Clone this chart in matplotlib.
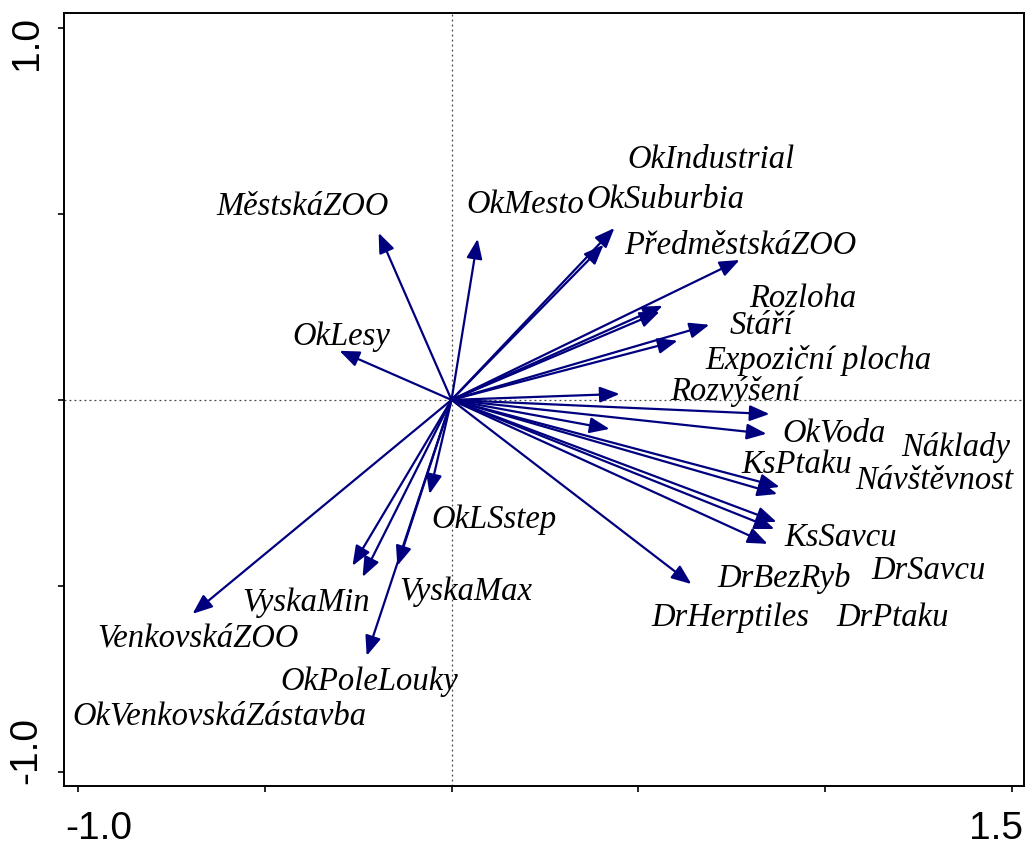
import matplotlib
matplotlib.use("Agg")
import matplotlib.pyplot as plt
import matplotlib.transforms as mtransforms

# arrow tips (biplot scores)
arrow_names = ["MestskaZOO", "OkMesto", "OkIndustrial", "OkSuburbia", "PredmestskaZOO",
               "Rozloha", "Rozloha2", "Stari", "Expozicni", "Rozvyseni", "Naklady",
               "OkVoda", "Var13", "KsPtaku", "Navstevnost", "KsSavcu", "DrSavcu",
               "DrPtaku", "DrBezRyb", "OkLSstep", "VyskaMin", "VyskaMin2", "VyskaMax",
               "OkPoleLouky", "VenkovskaZOO", "OkLesy"]
arrow_x = [-0.195, 0.070, 0.436, 0.407, 0.771,
           0.565, 0.557, 0.690, 0.605, 0.450, 0.851,
           0.843, 0.423, 0.878, 0.872, 0.870, 0.864,
           0.846, 0.642, -0.059, -0.265, -0.238, -0.145,
           -0.227, -0.693, -0.300]
arrow_y = [0.449, 0.433, 0.462, 0.417, 0.376,
           0.253, 0.237, 0.202, 0.159, 0.016, -0.038,
           -0.091, -0.078, -0.234, -0.253, -0.328, -0.347,
           -0.387, -0.495, -0.253, -0.446, -0.476, -0.446,
           -0.688, -0.575, 0.132]

# labels as placed in the original diagram
labels = ["OkIndustrial", "OkSuburbia", "MěstskáZOO", "OkMesto", "PředměstskáZOO",
          "Rozloha", "Stáří", "Expoziční plocha", "Rozvýšení", "OkVoda", "Náklady",
          "KsPtaku", "Návštěvnost", "KsSavcu", "DrSavcu", "DrBezRyb", "DrHerptiles",
          "DrPtaku", "OkLSstep", "VyskaMax", "VyskaMin", "VenkovskáZOO", "OkPoleLouky",
          "OkVenkovskáZástavba", "OkLesy"]
label_x = [0.471, 0.361, -0.629, 0.040, 0.463,
           0.797, 0.744, 0.680, 0.586, 0.886, 1.204,
           0.776, 1.081, 0.891, 1.124, 0.712, 0.535,
           1.030, -0.054, -0.139, -0.559, -0.947, -0.458,
           -1.014, -0.425]
label_y = [0.648, 0.540, 0.522, 0.527, 0.417,
           0.274, 0.202, 0.108, 0.024, -0.086, -0.124,
           -0.172, -0.215, -0.368, -0.457, -0.478, -0.583,
           -0.583, -0.320, -0.513, -0.543, -0.637, -0.755,
           -0.849, 0.172]

x_ticks = [-1.0, -0.5, 0.0, 0.5, 1.0, 1.5]
x_ticklabels = ["-1.0", "", "", "", "", "1.5"]
y_ticks = [-1.0, -0.5, 0.0, 0.5, 1.0]
y_ticklabels = ["-1.0", "", "", "", "1.0"]

navy = "#00007f"

fig = plt.figure(figsize=(10.26, 8.45), dpi=100)
ax = fig.add_axes([0.0624, 0.0686, 0.9356, 0.9148])
ax.set_xlim(-1.037, 1.532)
ax.set_ylim(-1.038, 1.040)

# zero lines
ax.axhline(0, color="#444444", lw=0.9, ls=(0, (1.5, 2.5)), zorder=1)
ax.axvline(0, color="#444444", lw=0.9, ls=(0, (1.5, 2.5)), zorder=1)

for x, y in zip(arrow_x, arrow_y):
    ax.annotate("", xy=(x, y), xytext=(0, 0),
                arrowprops=dict(arrowstyle="-|>,head_length=1.0,head_width=0.4",
                                color=navy, lw=1.6, shrinkA=0, shrinkB=0,
                                mutation_scale=12),
                zorder=3)

for lab, x, y in zip(labels, label_x, label_y):
    ax.text(x, y, lab, ha="left", va="center", fontsize=23.5,
            family="Liberation Serif", style="italic", color="black", zorder=4)

ax.set_xticks(x_ticks)
ax.set_xticklabels(x_ticklabels)
ax.set_yticks(y_ticks)
ax.set_yticklabels(y_ticklabels, rotation=90, va="center")
ax.tick_params(direction="out", length=4, width=1.2, labelsize=28, pad=10)
ax.tick_params(axis="x", pad=13)
for lab in ax.get_xticklabels() + ax.get_yticklabels():
    lab.set_family("Liberation Sans")
for s in ax.spines.values():
    s.set_linewidth(1.4)

# end labels sit inside the tick range, as in the original
def shift(label, dx, dy):
    label.set_transform(label.get_transform() +
                        mtransforms.ScaledTranslation(dx / 100, dy / 100, fig.dpi_scale_trans))

xl = ax.get_xticklabels()
xl[0].set_ha("left")
shift(xl[0], -13, 0)
xl[-1].set_ha("right")
shift(xl[-1], 11, 0)
yl = ax.get_yticklabels()
shift(yl[0], 0, 22)
shift(yl[-1], 0, -14)

fig.savefig("out.png", dpi=100)
